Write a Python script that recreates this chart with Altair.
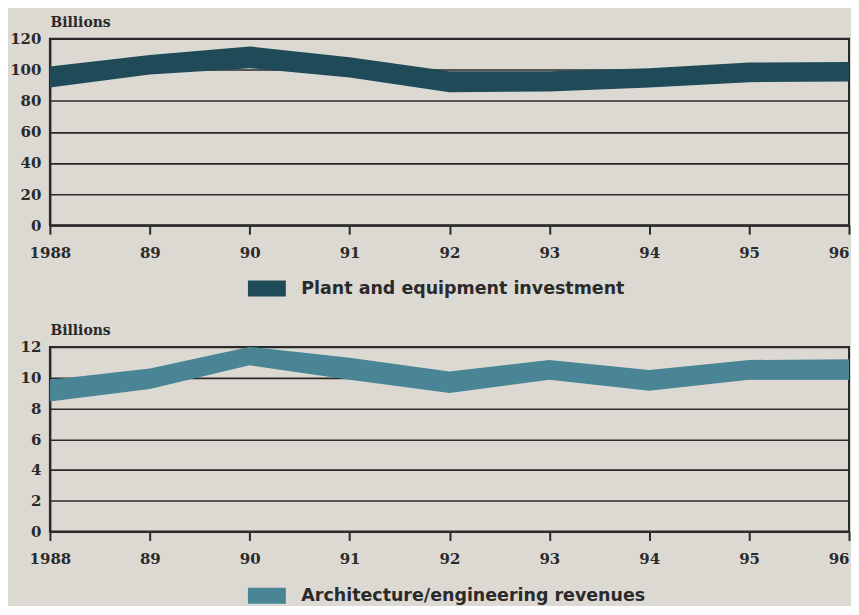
import altair as alt
import pandas as pd

years = [1988, 1989, 1990, 1991, 1992, 1993, 1994, 1995, 1996]
plant_low = [88.5, 97.0, 101.0, 95.0, 85.5, 86.0, 88.5, 92.0, 92.4]
plant_high = [102.0, 109.5, 115.0, 108.0, 99.0, 99.0, 101.0, 104.6, 105.0]
arch_low = [8.45, 9.27, 10.8, 9.86, 9.0, 9.86, 9.15, 9.86, 9.86]
arch_high = [9.86, 10.6, 12.0, 11.3, 10.4, 11.15, 10.5, 11.15, 11.2]
plant_ticks = [0, 20, 40, 60, 80, 100, 120]
arch_ticks = [0, 2, 4, 6, 8, 10, 12]
plant_label = "Plant and equipment investment"
arch_label = "Architecture/engineering revenues"

BG = "#dcd9d3"
INK = "#2a2a2a"
SERIF = "DejaVu Serif"
SANS = "DejaVu Sans"

def panel(low, high, ticks, label, color, h, legend_y):
    df = pd.DataFrame({"year": years, "low": low, "high": high, "series": label})
    x = alt.X("year:Q",
              scale=alt.Scale(domain=[1988, 1996], nice=False, zero=False),
              axis=alt.Axis(values=years, title=None,
                            labelExpr="datum.value == 1988 ? '1988' : substring(toString(datum.value), 2)",
                            labelAlign={"condition": {"test": "datum.value == 1996", "value": "right"},
                                        "value": "center"},
                            labelFont=SERIF, labelFontWeight="bold", labelFontSize=15,
                            labelColor=INK, labelPadding=11,
                            tickSize=9, tickColor=INK, tickWidth=2,
                            domainColor=INK, domainWidth=2, grid=False,
                            labelFlush=False, labelOverlap=False))
    y = alt.Y("low:Q",
              scale=alt.Scale(domain=[ticks[0], ticks[-1]], nice=False),
              axis=alt.Axis(values=ticks, title="Billions", titleAngle=0,
                            titleAlign="left", titleBaseline="alphabetic",
                            titleX=0, titleY=-12,
                            titleFont=SERIF, titleFontWeight="bold", titleFontSize=14,
                            titleColor=INK,
                            labelFont=SERIF, labelFontWeight="bold", labelFontSize=15,
                            labelColor=INK, labelPadding=9, tickSize=0,
                            grid=True, gridColor=INK, gridWidth=1.6, gridOpacity=1,
                            domainColor=INK, domainWidth=2))
    band = alt.Chart(df).mark_area(opacity=1, clip=True).encode(
        x=x,
        y=y,
        y2="high:Q",
        color=alt.Color("series:N",
                        scale=alt.Scale(domain=[label], range=[color]),
                        legend=alt.Legend(title=None, orient="none",
                                          legendX=208, legendY=legend_y,
                                          symbolType="M-2,-0.84H2V0.84H-2Z",
                                          symbolSize=361, symbolStrokeWidth=0,
                                          symbolOpacity=1,
                                          labelFont=SANS, labelFontWeight="bold",
                                          labelFontSize=17.5, labelColor=INK,
                                          labelOffset=25, labelLimit=700)),
    )
    return band.properties(width=801, height=h)

top = panel(plant_low, plant_high, plant_ticks, plant_label, "#1f4b59", 187, 241)
bottom = panel(arch_low, arch_high, arch_ticks, arch_label, "#4a8596", 185, 240)

chart = alt.vconcat(top, bottom, spacing=25).resolve_scale(color="independent").properties(
    background=BG, padding={"left": 0, "top": 6, "right": 0, "bottom": 0}
).configure_view(stroke=INK, strokeWidth=2)

chart.save("out.html", embed_options={"renderer": "svg", "actions": False})
